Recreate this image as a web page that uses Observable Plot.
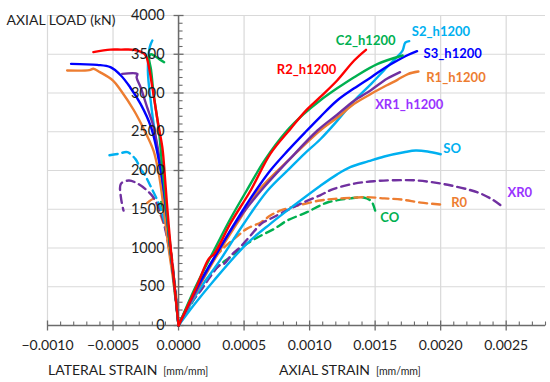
<!DOCTYPE html>
<html>
<head>
<meta charset="utf-8">
<script src="https://cdn.jsdelivr.net/npm/d3@7"></script>
<script src="https://cdn.jsdelivr.net/npm/@observablehq/plot@0.6"></script>
<style>
  html, body { margin: 0; padding: 0; background: #fff; }
  #chart { width: 550px; height: 382px; }
</style>
</head>
<body>
<div id="chart"></div>
<script>
// ---------- DATA (strain [mm/mm], load [kN]) ----------
// Axial-strain curves (positive side)
const r2Axial = [[0,0],[0.00013,470],[0.00023,860],[0.00027,920],[0.0004,1330],[0.00055,1742],[0.0007,2215],[0.000855,2540],[0.00097,2770],[0.00108,2946],[0.00121,3161],[0.00134,3419],[0.00143,3557]];
const c2Axial = [[0,0],[0.00013,500],[0.00027,968],[0.0004,1390],[0.00052,1742],[0.00066,2140],[0.00082,2500],[0.00095,2720],[0.00108,2903],[0.00121,3060],[0.00134,3204],[0.00152,3376],[0.00171,3484]];
const s2Axial = [[0,0],[0.00015,440],[0.00032,850],[0.0005,1320],[0.00068,1742],[0.00085,2030],[0.00096,2215],[0.00108,2400],[0.00121,2640],[0.00134,2900],[0.00147,3118],[0.00159,3333],[0.00167,3470],[0.00171,3548],[0.00173,3650],[0.00176,3669]];
const s3Axial = [[0,0],[0.00013,460],[0.00029,925],[0.00044,1350],[0.00059,1742],[0.0007,2000],[0.00083,2250],[0.00097,2500],[0.00108,2690],[0.00121,2903],[0.00134,3060],[0.00147,3204],[0.00157,3320],[0.00167,3419],[0.00175,3490],[0.00182,3540]];
const r1Axial = [[0,0],[0.00013,420],[0.0003,925],[0.00047,1380],[0.00061,1742],[0.00085,2150],[0.00108,2516],[0.00121,2680],[0.00134,2860],[0.00147,2990],[0.00159,3100],[0.00167,3170],[0.00175,3245],[0.00183,3277]];
const xr1Axial = [[0,0],[0.00013,430],[0.00029,925],[0.00046,1380],[0.00063,1742],[0.00085,2150],[0.00106,2516],[0.00121,2720],[0.00134,2900],[0.00147,3040],[0.00159,3183],[0.00169,3269]];
const soAxial = [[0,0],[0.00012,270],[0.00027,581],[0.00052,1054],[0.0007,1312],[0.00088,1548],[0.00108,1800],[0.00121,1950],[0.00131,2043],[0.00145,2120],[0.00157,2181],[0.00172,2235],[0.00181,2258],[0.0019,2245],[0.002,2210]];
const xr0Axial = [[0,0],[0.0001,300],[0.00017,452],[0.00024,624],[0.00031,774],[0.00035,800],[0.0004,903],[0.00047,1011],[0.00055,1161],[0.00063,1312],[0.0007,1376],[0.0008,1462],[0.00093,1570],[0.00108,1680],[0.00118,1760],[0.00134,1830],[0.00149,1862],[0.00165,1875],[0.00182,1871],[0.00197,1840],[0.00208,1806],[0.00222,1750],[0.00231,1699],[0.0024,1620],[0.00246,1548]];
const r0Axial = [[0,0],[0.0001,340],[0.0002,660],[0.00027,860],[0.00035,1011],[0.00044,1140],[0.00052,1247],[0.00063,1333],[0.0007,1419],[0.00078,1484],[0.00091,1548],[0.00108,1613],[0.00119,1634],[0.00134,1650],[0.00144,1656],[0.00157,1640],[0.0017,1625],[0.00185,1585],[0.002,1561]];
const coAxial = [[0,0],[0.0001,290],[0.0002,560],[0.0003,760],[0.0004,890],[0.0005,1032],[0.00063,1161],[0.00073,1247],[0.00083,1355],[0.00098,1462],[0.00108,1548],[0.00114,1590],[0.00131,1640],[0.00141,1652],[0.00146,1620],[0.00148,1580],[0.0015,1484]];

// Lateral-strain curves (negative side)
const r2Lateral = [[0,0],[-0.00003,500],[-0.00006,1000],[-0.00009,1600],[-0.00011,2050],[-0.000124,2301],[-0.00016,2645],[-0.0002,3075],[-0.00024,3441],[-0.00026,3505],[-0.00034,3557],[-0.00044,3560],[-0.00052,3560],[-0.00065,3527]];
const c2Lateral = [[0,0],[-0.00003,500],[-0.00007,1100],[-0.0001,1650],[-0.00013,2150],[-0.00015,2516],[-0.00019,2989],[-0.00021,3300],[-0.000225,3470],[-0.00021,3500],[-0.00015,3440],[-0.00011,3398]];
const s2Lateral = [[0,0],[-0.00003,500],[-0.00008,1200],[-0.00012,1800],[-0.00015,2150],[-0.000176,2430],[-0.00021,2860],[-0.000234,3290],[-0.00022,3591],[-0.0002,3677]];
const s3Lateral = [[0,0],[-0.00003,500],[-0.00007,1100],[-0.0001,1600],[-0.00014,2043],[-0.00021,2559],[-0.00029,2860],[-0.00037,3075],[-0.00044,3226],[-0.00052,3333],[-0.00062,3363],[-0.00082,3376]];
const r1Lateral = [[0,0],[-0.00003,450],[-0.00008,1050],[-0.00012,1600],[-0.00015,1950],[-0.00019,2250],[-0.00026,2516],[-0.00034,2774],[-0.00044,3032],[-0.0005,3160],[-0.0006,3269],[-0.00065,3312],[-0.00068,3295],[-0.00085,3290]];
const xr1Lateral = [[0,0],[-0.00003,500],[-0.00007,1100],[-0.00011,1700],[-0.00015,2200],[-0.00019,2559],[-0.00024,2817],[-0.00029,3075],[-0.00032,3200],[-0.000315,3247],[-0.00043,3247]];
const soLateral = [[0,0],[-0.000023,409],[-0.000048,796],[-0.000086,1183],[-0.00014,1527],[-0.00021,1785],[-0.00026,1950],[-0.00029,2022],[-0.00033,2150],[-0.00039,2236],[-0.00046,2215],[-0.00054,2193]];
const xr0Lateral = [[0,0],[-0.000036,581],[-0.000074,1011],[-0.000125,1398],[-0.000176,1613],[-0.00024,1742],[-0.00032,1838],[-0.00038,1871],[-0.00044,1828],[-0.00044,1656],[-0.00042,1484]];
const r0Lateral = [[0,0],[-0.000036,667],[-0.000074,1097],[-0.00014,1441],[-0.00017,1580],[-0.00019,1634],[-0.00026,1548]];
const coLateral = [[0,0],[-0.00004,600],[-0.000074,1183],[-0.00011,1441],[-0.00013,1580],[-0.00014,1656]];

// Series labels
const labelNames = ["R2_h1200","C2_h1200","S2_h1200","S3_h1200","R1_h1200","XR1_h1200","SO","XR0","R0","CO"];
const labelX = [0.00075,0.00120,0.00178,0.00187,0.00189,0.00150,0.00202,0.00251,0.00208,0.00154];
const labelY = [3299,3669,3785,3505,3195,2847,2280,1707,1578,1390];

// Ticks
const xTicks = [-0.001,-0.0005,0,0.0005,0.001,0.0015,0.002,0.0025];
const xTickLabels = ["−0.0010","−0.0005","0.0000","0.0005","0.0010","0.0015","0.0020","0.0025"];
const yTicks = [0,500,1000,1500,2000,2500,3000,3500,4000];
const yTickLabels = ["0","500","1000","1500","2000","2500","3000","3500","4000"];

// Axis titles
const yTitle = "AXIAL LOAD (kN)";
const xTitleLeft = "LATERAL STRAIN";
const xTitleRight = "AXIAL STRAIN";
const xUnit = "[mm/mm]";

// ---------- STYLES ----------
const RED = "#ff0000", GREEN = "#00b050", CYAN = "#00b0f0", BLUE = "#0000ff", ORANGE = "#ed7d31", PURPLE = "#7030a0", VIOLET = "#9933ff";
const FONT = "Lato, 'Open Sans', sans-serif";

const series = [
  {pts: coAxial, c: GREEN, dash: true}, {pts: coLateral, c: GREEN, dash: true},
  {pts: r0Axial, c: ORANGE, dash: true}, {pts: r0Lateral, c: ORANGE, dash: true},
  {pts: xr0Axial, c: PURPLE, dash: true}, {pts: xr0Lateral, c: PURPLE, dash: true},
  {pts: soLateral, c: CYAN, dash: true},
  {pts: soAxial, c: CYAN}, {pts: s2Axial, c: CYAN}, {pts: s2Lateral, c: CYAN},
  {pts: r1Axial, c: ORANGE}, {pts: r1Lateral, c: ORANGE},
  {pts: xr1Axial, c: PURPLE}, {pts: xr1Lateral, c: PURPLE},
  {pts: s3Axial, c: BLUE}, {pts: s3Lateral, c: BLUE},
  {pts: c2Axial, c: GREEN}, {pts: c2Lateral, c: GREEN},
  {pts: r2Axial, c: RED}, {pts: r2Lateral, c: RED}
];
const labelColors = [RED, GREEN, CYAN, BLUE, ORANGE, VIOLET, CYAN, VIOLET, ORANGE, GREEN];

// tick symbols
const hBoth = {draw(ctx, size){ const r = Math.sqrt(size/Math.PI); ctx.moveTo(-r,0); ctx.lineTo(r,0); }};
const hRight = {draw(ctx, size){ const r = Math.sqrt(size/Math.PI); ctx.moveTo(0,0); ctx.lineTo(r,0); }};
const vBoth = {draw(ctx, size){ const r = Math.sqrt(size/Math.PI); ctx.moveTo(0,-r); ctx.lineTo(0,r); }};
const vUp = {draw(ctx, size){ const r = Math.sqrt(size/Math.PI); ctx.moveTo(0,-r); ctx.lineTo(0,0); }};

const yMinor = d3.range(0, 41).map(i => i*100).filter(v => v % 500 !== 0);
const xMinor = d3.range(-10, 29).map(i => i/10000).filter((v,i) => (i % 5) !== 0);

const AXIS = "#6b6b6b";
const TXT = "#1e1e1e";
const yLab = yTicks.map((v,i) => ({v, t: yTickLabels[i]}));
const xLab = xTicks.map((v,i) => ({v, t: xTickLabels[i]}));
const labs = labelNames.map((n,i) => ({n, x: labelX[i], y: labelY[i], c: labelColors[i]}));

const chart = Plot.plot({
  width: 550, height: 382,
  marginLeft: 47, marginRight: 5, marginTop: 15, marginBottom: 57,
  style: {fontFamily: FONT, background: "#fff"},
  x: {domain: [-0.001, 0.0028], axis: null},
  y: {domain: [0, 4000], axis: null},
  marks: [
    Plot.ruleX(xTicks, {stroke: "#d9d9d9", strokeWidth: 1.2}),
    Plot.ruleY(yTicks, {stroke: "#d9d9d9", strokeWidth: 1.2}),
    Plot.ruleY([0], {stroke: AXIS, strokeWidth: 1.5}),
    Plot.ruleX([0], {y1: 0, y2: 4000, stroke: AXIS, strokeWidth: 1.5}),
    Plot.dot(yTicks, {x: 0, y: d => d, symbol: hBoth, r: 5, stroke: AXIS, strokeWidth: 1.3}),
    Plot.dot(yMinor, {x: 0, y: d => d, symbol: hRight, r: 4, stroke: AXIS, strokeWidth: 1.1}),
    Plot.dot(xTicks, {x: d => d, y: 0, symbol: vBoth, r: 5, stroke: AXIS, strokeWidth: 1.3}),
    Plot.dot(xMinor, {x: d => d, y: 0, symbol: vUp, r: 4, stroke: AXIS, strokeWidth: 1.1}),
    ...series.map(s => Plot.line(s.pts, {
      x: d => d[0], y: d => d[1], stroke: s.c, strokeWidth: 2.4,
      strokeDasharray: s.dash ? "8,5" : null, curve: "catmull-rom"
    })),
    Plot.text(yLab, {x: 0, y: "v", text: "t", dx: -14, textAnchor: "end", fontSize: 14.5, fill: TXT}),
    Plot.text(xLab, {x: "v", y: 0, text: "t", dy: 20, fontSize: 14, fill: TXT}),
    Plot.text(labs, {x: "x", y: "y", text: "n", fill: "c", textAnchor: "start", fontSize: 13, fontWeight: "bold"}),
    Plot.text([yTitle], {frameAnchor: "top-left", dx: -41, dy: 0, textAnchor: "start", fontSize: 14, fill: TXT})
  ]
});
document.getElementById("chart").appendChild(chart);

// Axis titles with smaller unit part, placed relative to the scales
const sx = chart.scale("x"), sy = chart.scale("y");
const svg = d3.select(chart);
const baseY = sy.apply(0) + 50;
[[xTitleLeft, sx.apply(-0.001) + 1], [xTitleRight, sx.apply(0.00077)]].forEach(([t, x0]) => {
  const txt = svg.append("text").attr("x", x0).attr("y", baseY)
    .attr("text-anchor", "start")
    .attr("font-family", FONT).attr("fill", TXT);
  txt.append("tspan").attr("font-size", 14).text(t);
  txt.append("tspan").attr("font-size", 10.5).attr("dx", 6).text(xUnit);
});
</script>
</body>
</html>
